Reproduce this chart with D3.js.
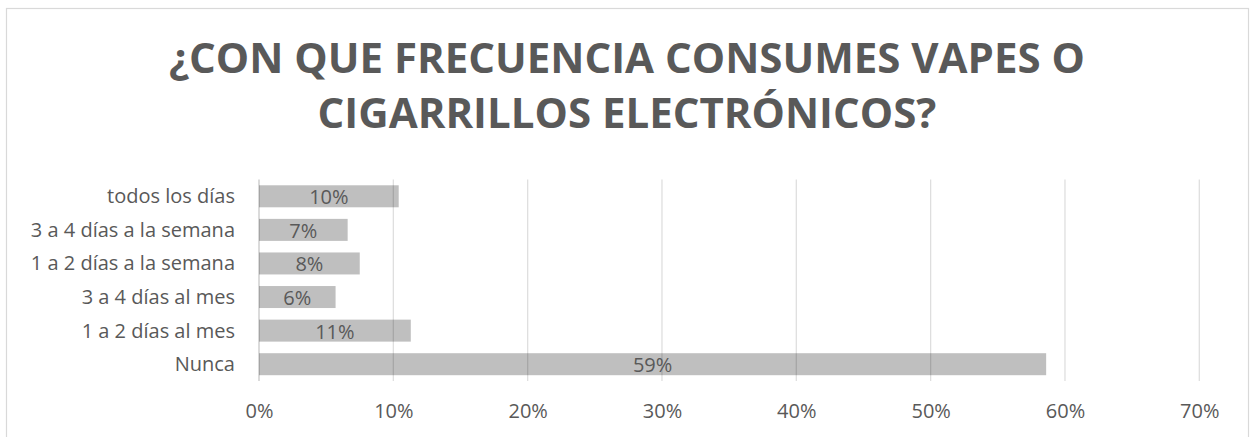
<!DOCTYPE html>
<html>
<head>
<meta charset="utf-8">
<script src="https://cdn.jsdelivr.net/npm/d3@7"></script>
<style>
  html, body { margin: 0; padding: 0; background: #fff; }
  svg { display: block; }
</style>
</head>
<body>
<svg id="chart" width="1250" height="437"></svg>
<script>
const titleLines = ["¿CON QUE FRECUENCIA CONSUMES VAPES O", "CIGARRILLOS ELECTRÓNICOS?"];
const categories = ["todos los días", "3 a 4 días a la semana", "1 a 2 días a la semana", "3 a 4 días al mes", "1 a 2 días al mes", "Nunca"];
const values = [10.4, 6.6, 7.5, 5.7, 11.3, 58.6];
const tickValues = [0, 10, 20, 30, 40, 50, 60, 70];

const svg = d3.select("#chart");
const font = "'Open Sans', 'Noto Sans', sans-serif";
const textColor = "#595959";

// chart border
svg.append("rect")
  .attr("x", 6.5).attr("y", 8.5)
  .attr("width", 1242).attr("height", 440)
  .attr("fill", "#fff").attr("stroke", "#d9d9d9").attr("stroke-width", 1.2);

// title
svg.append("g").selectAll("text").data(titleLines).join("text")
  .attr("x", 627)
  .attr("y", (d, i) => 73 + i * 55)
  .attr("text-anchor", "middle")
  .attr("font-family", font)
  .attr("font-weight", "bold")
  .attr("font-size", 42)
  .attr("fill", textColor)
  .text(d => d);

const plot = { left: 259, right: 1199.3, top: 179.5, bottom: 381 };

const x = d3.scaleLinear().domain([0, 70]).range([plot.left, plot.right]);
const y = d3.scaleBand().domain(categories)
  .range([plot.top, plot.bottom])
  .paddingInner(0.345).paddingOuter(0.1725);

// bars
svg.append("g").selectAll("rect").data(values).join("rect")
  .attr("x", x(0))
  .attr("y", (d, i) => y(categories[i]))
  .attr("width", d => x(d) - x(0))
  .attr("height", y.bandwidth())
  .attr("fill", "#bfbfbf");

// gridlines (drawn over bars, translucent)
svg.append("g").selectAll("line").data(tickValues).join("line")
  .attr("x1", d => x(d)).attr("x2", d => x(d))
  .attr("y1", plot.top).attr("y2", plot.bottom)
  .attr("stroke", "#000")
  .attr("stroke-opacity", d => d === 0 ? 0.22 : 0.13)
  .attr("stroke-width", 1.3);

// x axis labels
const xAxis = d3.axisBottom(x).tickValues(tickValues).tickSize(0).tickPadding(0)
  .tickFormat(d => d + "%");
const gx = svg.append("g").attr("transform", `translate(0, 418)`).call(xAxis);
gx.select(".domain").remove();
gx.selectAll("text")
  .attr("y", 0).attr("dy", 0)
  .attr("font-family", font).attr("font-size", 20).attr("fill", textColor);

// category labels
const yAxis = d3.axisLeft(y).tickSize(0).tickPadding(0);
const gy = svg.append("g").attr("transform", `translate(235, 0)`).call(yAxis);
gy.select(".domain").remove();
gy.selectAll("text")
  .attr("dy", "0.35em")
  .attr("font-family", font).attr("font-size", 20).attr("fill", textColor);

// data labels
svg.append("g").selectAll("text").data(values).join("text")
  .attr("x", d => (x(0) + x(d)) / 2)
  .attr("y", (d, i) => y(categories[i]) + y.bandwidth() / 2 + 1)
  .attr("dy", "0.35em")
  .attr("text-anchor", "middle")
  .attr("font-family", font).attr("font-size", 20).attr("fill", textColor)
  .text(d => Math.round(d) + "%");
</script>
</body>
</html>
